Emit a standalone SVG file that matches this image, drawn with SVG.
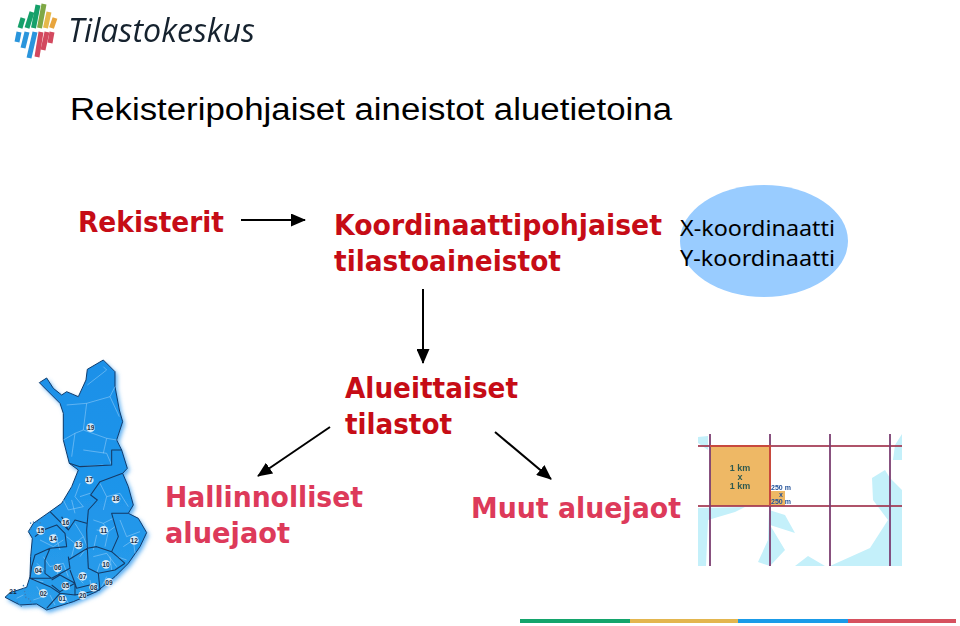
<svg xmlns="http://www.w3.org/2000/svg" width="960" height="626" viewBox="0 0 960 626">
<defs>
<marker id="ah" markerWidth="15" markerHeight="13" refX="14" refY="6.5" orient="auto" markerUnits="userSpaceOnUse"><path d="M0 0L15 6.5L0 13Z" fill="#000"/></marker>
<filter id="gl" x="-20%" y="-20%" width="140%" height="140%"><feGaussianBlur stdDeviation="7"/></filter>
<filter id="bl" x="-5%" y="-5%" width="110%" height="110%"><feGaussianBlur stdDeviation="0.55"/></filter>
<filter id="bm" x="-5%" y="-5%" width="110%" height="110%"><feGaussianBlur stdDeviation="0.9"/></filter>
<linearGradient id="fg" x1="0" y1="0" x2="0" y2="1"><stop offset="0" stop-color="#1a90e8"/><stop offset=".55" stop-color="#1f95ea"/><stop offset="1" stop-color="#2a9dea"/></linearGradient>
</defs>
<style>
text{font-family:"DejaVu Sans","Noto Sans",sans-serif}
.red{font-weight:700;fill:#c60c16;font-size:29px}
.pink{font-weight:700;fill:#dd3a5a;font-size:29px}
.blk{fill:#000;font-size:22px;font-family:"Noto Sans",sans-serif}
.conn{stroke:#000;stroke-width:2;fill:none;marker-end:url(#ah)}
.num{font-size:20px;font-weight:700;fill:#17304a;text-anchor:middle;font-family:"Liberation Sans",sans-serif}
.dot{fill:#e8f2fa;opacity:.9}
.dv{fill:none;stroke:#a9d8fa;stroke-width:1.8;opacity:.8}
.bd{fill:none;stroke:#123a66;stroke-width:3.2;stroke-linejoin:round}
.gr{stroke:#a2364f;stroke-width:2;opacity:.85}
.gv{stroke:#7c3f72;stroke-width:2;opacity:.9}
.sm{font-family:"Liberation Sans",sans-serif;font-weight:700;text-anchor:middle}
</style>
<rect width="960" height="626" fill="#fff"/>

<g id="logo" filter="url(#bl)">
<g stroke-width="5" fill="none">
<path d="M20 28L23 18" stroke="#17a06a"/>
<path d="M27 28L32 12" stroke="#17a06a"/>
<path d="M33.500 28L38 5" stroke="#17a06a"/>
<path d="M39.500 28L44 4" stroke="#7fa845"/>
<path d="M45.500 28L49 12" stroke="#e6b84a"/>
<path d="M51.500 28L55 18" stroke="#e8a53c"/>
<path d="M17 42L19 32" stroke="#2b95dc"/>
<path d="M23 48L27 32" stroke="#2b95dc"/>
<path d="M29 58L35 32" stroke="#2b95dc"/>
<path d="M37 57L41 32" stroke="#d34a5e"/>
<path d="M43 50L47 32" stroke="#d34a5e"/>
<path d="M50 43L52 32" stroke="#d34a5e"/>
</g>
<text x="68" y="42" font-size="33" fill="#14212e" font-style="italic" textLength="187" lengthAdjust="spacingAndGlyphs" style="font-family:'Open Sans',sans-serif">Tilastokeskus</text>
</g>

<g id="title"><text x="70" y="120" textLength="602" lengthAdjust="spacingAndGlyphs" style="font-family:'Liberation Sans',sans-serif;font-size:31px;fill:#000">Rekisteripohjaiset aineistot aluetietoina</text></g>

<g id="connectors">
<path class="conn" d="M241 220H305"/>
<path class="conn" d="M423 289V363"/>
<path class="conn" d="M330 427L258 476"/>
<path class="conn" d="M495 432L551 479"/>
</g>

<g id="rekisterit"><text class="red" x="78" y="232" textLength="146" lengthAdjust="spacingAndGlyphs">Rekisterit</text></g>
<g id="koordinaatti">
<text class="red" x="334" y="235" textLength="328" lengthAdjust="spacingAndGlyphs">Koordinaattipohjaiset</text>
<text class="red" x="334" y="271" textLength="227" lengthAdjust="spacingAndGlyphs">tilastoaineistot</text>
</g>
<g id="xy">
<ellipse cx="764" cy="241" rx="84" ry="56" fill="#99ccff"/>
<text class="blk" x="680" y="236" textLength="155" lengthAdjust="spacingAndGlyphs">X-koordinaatti</text>
<text class="blk" x="680" y="266" textLength="155" lengthAdjust="spacingAndGlyphs">Y-koordinaatti</text>
</g>
<g id="alueittaiset">
<text class="red" x="345" y="398" textLength="173" lengthAdjust="spacingAndGlyphs">Alueittaiset</text>
<text class="red" x="345" y="434" textLength="107" lengthAdjust="spacingAndGlyphs">tilastot</text>
</g>
<g id="hallinnolliset">
<text class="pink" x="165" y="507" textLength="198" lengthAdjust="spacingAndGlyphs">Hallinnolliset</text>
<text class="pink" x="165" y="543" textLength="125" lengthAdjust="spacingAndGlyphs">aluejaot</text>
</g>
<g id="muut"><text class="pink" x="471" y="518" textLength="210" lengthAdjust="spacingAndGlyphs">Muut aluejaot</text></g>

<g id="map" transform="translate(0,350) scale(.3333)">
<path d="M118 98L140 84L160 115L185 135L200 125L235 140L258 90L262 58L310 30L345 65L345 110L358 180L368 215L350 270L365 300L382 355L368 370L385 410L400 465L385 490L415 505L440 548L420 590L385 640L345 680L290 725L220 755L140 780L110 762L60 765L15 742L30 728L80 712L90 680L92 620L97 565L85 545L100 520L150 485L185 460L215 410L235 360L208 340L190 270L190 190L180 160Z" fill="#5aaef2" filter="url(#gl)" transform="translate(7,8)"/>
<g filter="url(#bm)">
<path d="M118 98L140 84L160 115L185 135L200 125L235 140L258 90L262 58L310 30L345 65L345 110L358 180L368 215L350 270L365 300L382 355L368 370L385 410L400 465L385 490L415 505L440 548L420 590L385 640L345 680L290 725L220 755L140 780L110 762L60 765L15 742L30 728L80 712L90 680L92 620L97 565L85 545L100 520L150 485L185 460L215 410L235 360L208 340L190 270L190 190L180 160Z" fill="url(#fg)" stroke="#123a6a" stroke-width="3" stroke-linejoin="round"/>
<path class="dv" d="M200 165L260 160L330 140L345 110M260 160L250 240L225 250L190 270M330 140L358 200M250 240L320 265L350 270M225 250L215 320M250 300L320 310L335 345M320 265L310 310M310 50L320 60L262 105M240 350L310 345"/>
<path class="dv" d="M240 400L225 440L250 470L205 480L190 450M240 440L270 430M215 450L225 490M300 400L320 440L360 430L385 470M320 440L310 480M280 510L310 520L340 505M290 540L325 545L345 530M310 520L325 545L315 590M290 555L280 600M360 510L380 560L420 545M370 590L400 570L405 610M350 620L380 630M225 520L250 560L225 580L215 620M200 560L225 580M250 560L262 590L240 620M165 550L180 600M120 570L160 590L190 570M130 620L150 650L190 640L205 680M110 640L135 660M100 690L130 695M180 640L170 680M280 620L320 610L350 650M300 640L290 670M330 620L335 660M230 680L250 700M270 690L275 720M320 680L305 710M195 695L210 720M110 710L130 740L100 750M150 735L165 765M195 740L205 760M240 720L255 745M50 745L70 735"/>
<path class="bd" d="M208 340L240 350L335 345L335 300L365 300M368 370L300 395L272 435L292 450L265 480L260 540L262 595M385 490L335 490L355 560L335 605L375 640M335 605L290 590L262 595L205 630M260 520L225 510L205 540L180 515L150 485M205 540L195 520L185 500M105 560L130 540L170 525L195 550L200 590L150 595L105 615L95 650L90 685L155 685L210 655L205 620M150 595L135 630L135 670L155 685M210 660L225 700L230 715L290 700M262 595L265 655L295 670L345 660L375 640M295 670L300 720M155 690L180 675L225 700L180 725L155 705M90 685L150 710L180 730L140 775M225 700L225 735L300 720M180 730L225 735"/>
<path d="M90 520L105 515M85 545L95 535M110 515L125 520M70 705L78 745M50 755L65 770M85 745L100 765" stroke="#3d7fb8" stroke-width="4" fill="none" stroke-dasharray="4 5"/>
<g>
<circle class="dot" cx="272" cy="233" r="13"/><circle class="dot" cx="268" cy="390" r="13"/><circle class="dot" cx="348" cy="447" r="13"/><circle class="dot" cx="197" cy="517" r="13"/><circle class="dot" cx="122" cy="541" r="13"/><circle class="dot" cx="160" cy="566" r="13"/><circle class="dot" cx="311" cy="541" r="13"/><circle class="dot" cx="403" cy="571" r="13"/><circle class="dot" cx="236" cy="585" r="13"/><circle class="dot" cx="318" cy="643" r="13"/><circle class="dot" cx="173" cy="654" r="13"/><circle class="dot" cx="115" cy="661" r="13"/><circle class="dot" cx="248" cy="679" r="13"/><circle class="dot" cx="327" cy="697" r="13"/><circle class="dot" cx="197" cy="708" r="13"/><circle class="dot" cx="281" cy="712" r="13"/><circle class="dot" cx="130" cy="730" r="13"/><circle class="dot" cx="187" cy="747" r="13"/><circle class="dot" cx="248" cy="736" r="13"/>
</g>
</g>
<g>
<text class="num" x="272" y="240">19</text><text class="num" x="268" y="397">17</text><text class="num" x="348" y="454">18</text><text class="num" x="197" y="524">16</text><text class="num" x="122" y="548">15</text><text class="num" x="160" y="573">14</text><text class="num" x="311" y="548">11</text><text class="num" x="403" y="578">12</text><text class="num" x="236" y="592">13</text><text class="num" x="318" y="650">10</text><text class="num" x="173" y="661">06</text><text class="num" x="115" y="668">04</text><text class="num" x="248" y="686">07</text><text class="num" x="327" y="704">09</text><text class="num" x="197" y="715">05</text><text class="num" x="281" y="719">08</text><text class="num" x="130" y="737">02</text><text class="num" x="187" y="754">01</text><text class="num" x="248" y="743">20</text><text class="num" x="39" y="731">21</text>
</g>
</g>

<g id="grid" filter="url(#bl)">
<rect x="698" y="434" width="204" height="132" fill="#fff"/>
<g fill="#c4f0fa">
<path d="M698 437L708 436L708 450L698 443Z"/>
<path d="M698 508L745 507L735 512L708 520L706 566L698 566Z"/>
<path d="M769 510L785 515L795 533L770 525L785 550L770 566L758 562L768 540Z"/>
<path d="M795 566L808 556L825 566Z"/>
<path d="M830 566L870 548L888 520L873 500L872 478L885 470L890 478L902 490L902 566Z"/>
<path d="M895 445L902 434V460L893 460Z"/>
</g>
<rect x="710" y="446" width="60" height="60" fill="#eeb865"/>
<rect x="770" y="491" width="15" height="15" fill="#eeb865"/>
<path class="gr" d="M698 446H902M698 506H902"/>
<path class="gv" d="M710 434V566M770 434V566M830 434V566M890 434V566"/>
<path d="M710 446H770V506" fill="none" stroke="#c8483c" stroke-width="2"/>
<g fill="#2f5a50" font-size="9">
<text class="sm" x="740" y="471">1 km</text><text class="sm" x="740" y="479.500">x</text><text class="sm" x="740" y="489">1 km</text>
</g>
<g fill="#24539a" font-size="7">
<text class="sm" x="781" y="490">250 m</text><text class="sm" x="781" y="496.500">x</text><text class="sm" x="781" y="503.500">250 m</text>
</g>
</g>

<g id="footer" stroke-width="4">
<path d="M520 621H630" stroke="#14a56c"/>
<path d="M630 621H738" stroke="#e3b64f"/>
<path d="M738 621H848" stroke="#1a9be8"/>
<path d="M848 621H956" stroke="#d6515f"/>
</g>
</svg>
